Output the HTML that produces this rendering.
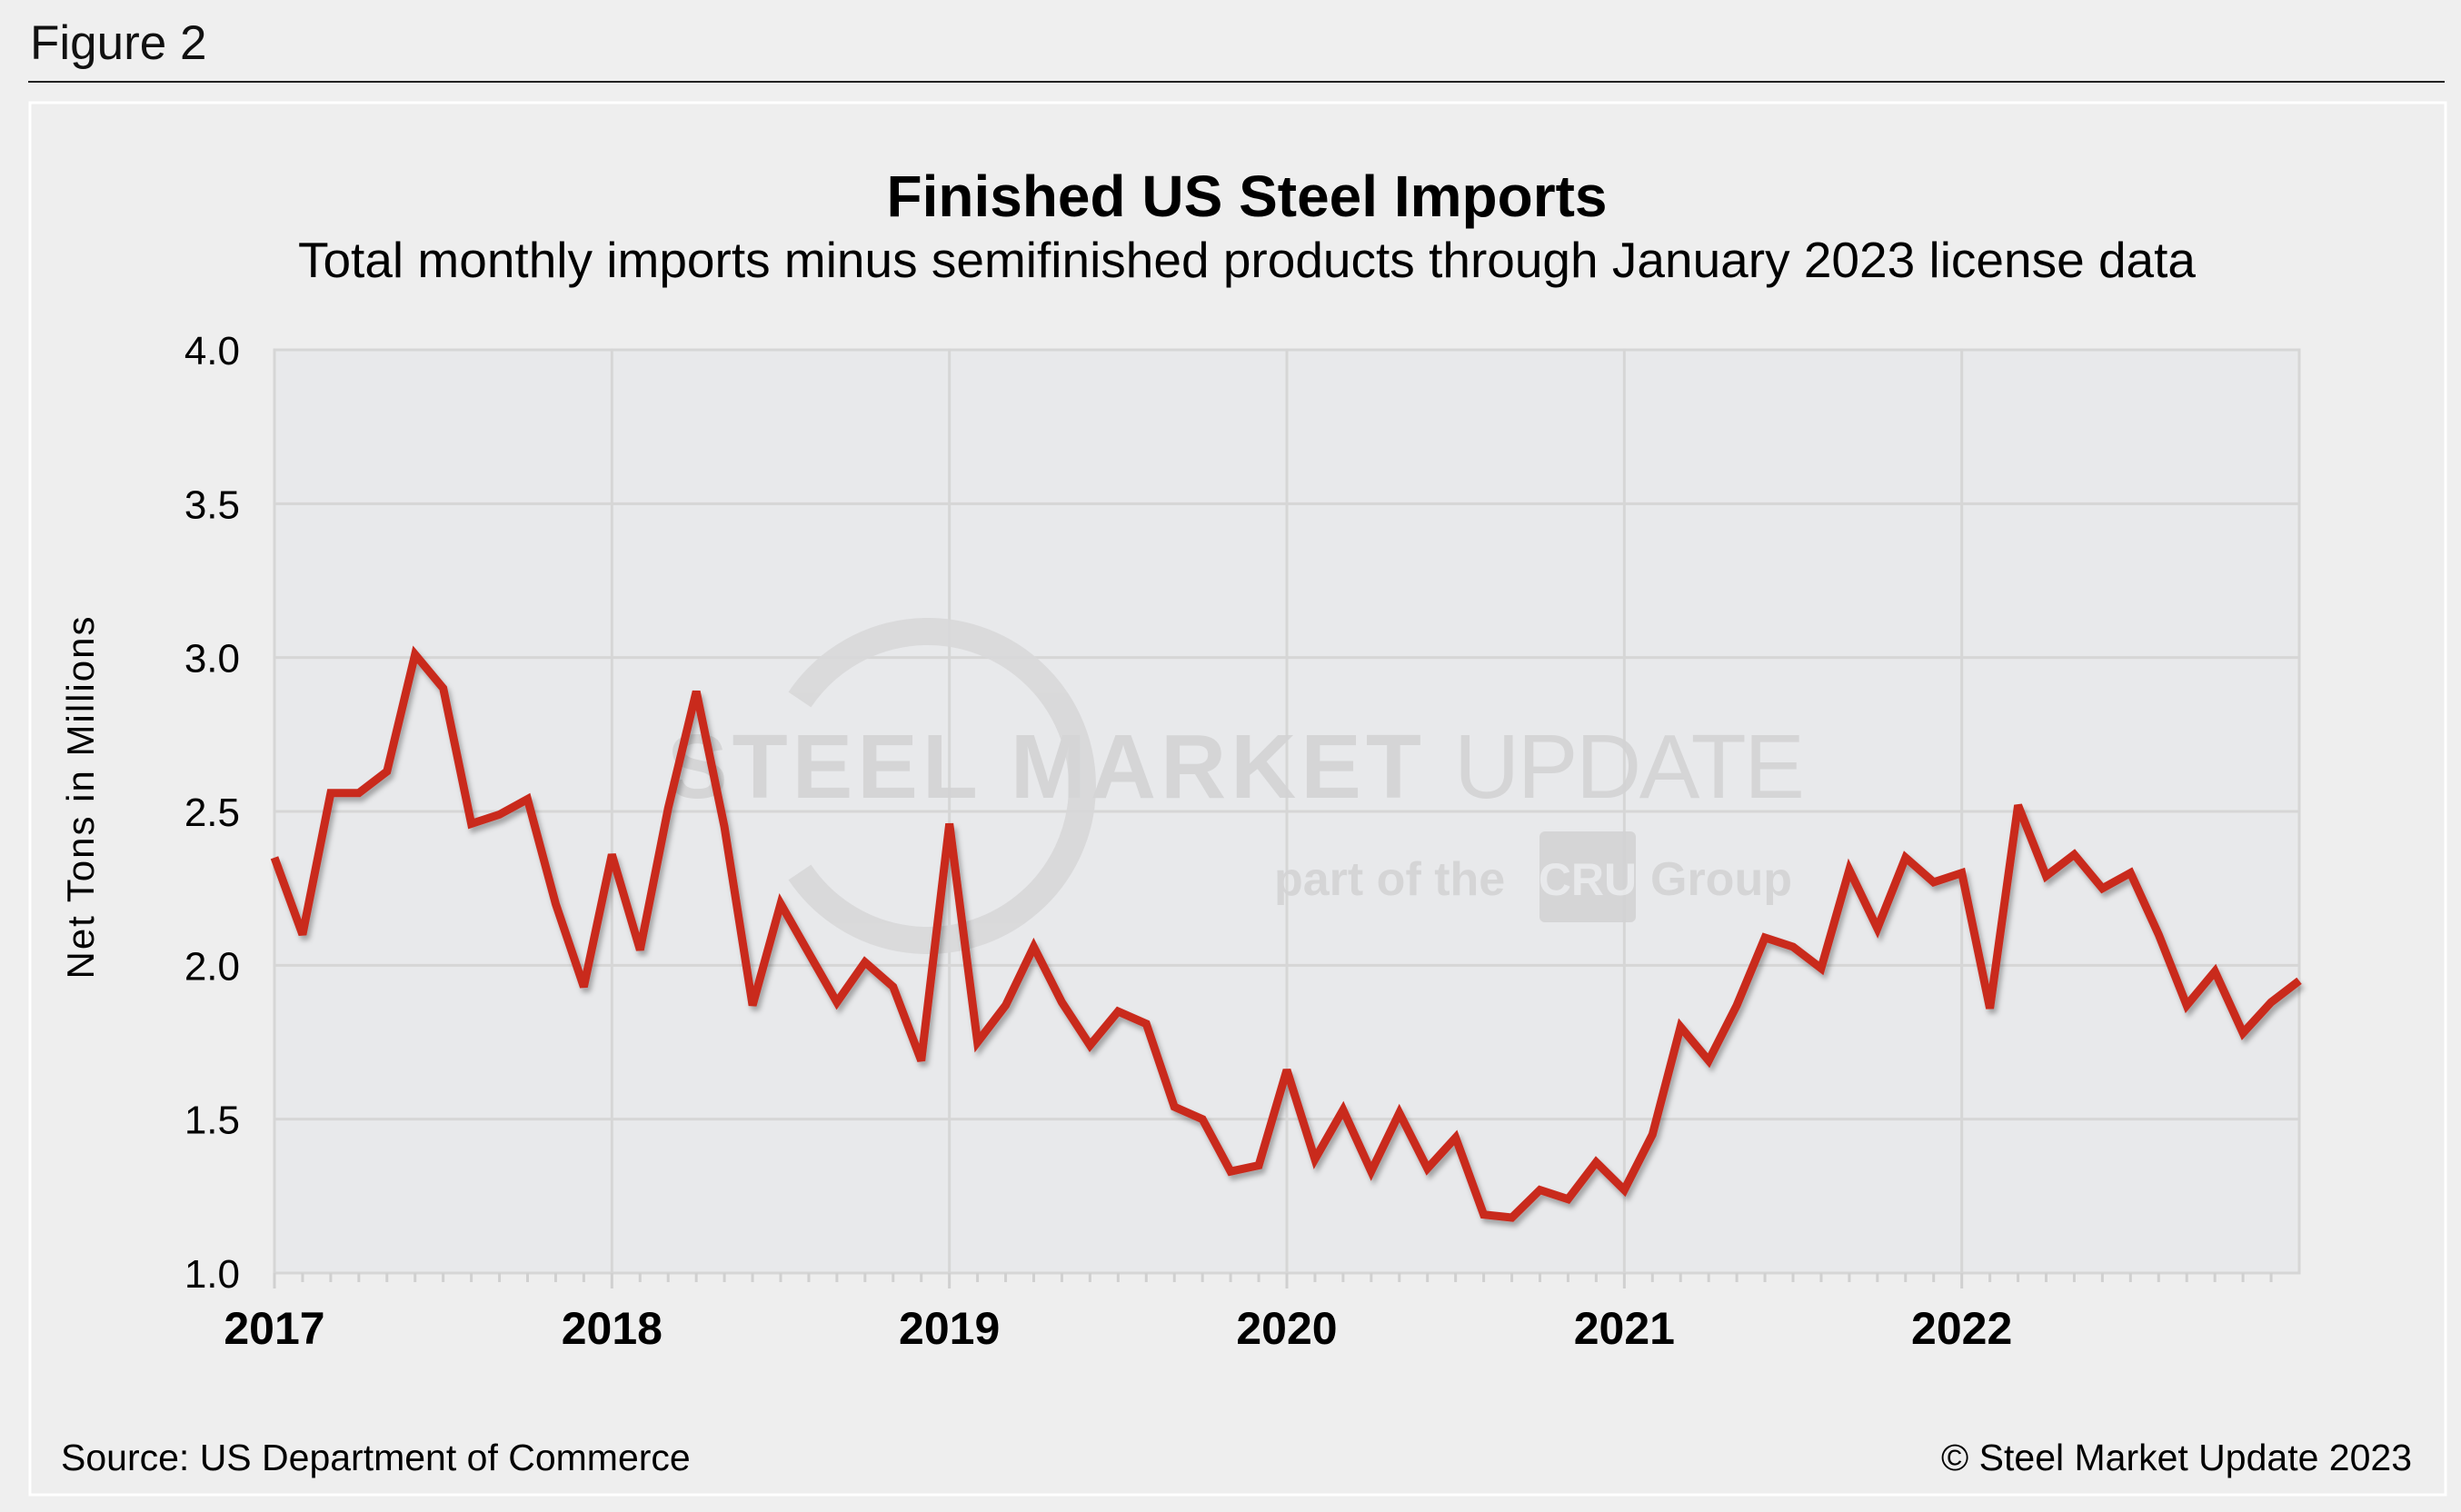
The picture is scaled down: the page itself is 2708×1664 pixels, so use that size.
<!DOCTYPE html>
<html><head><meta charset="utf-8"><style>
body{margin:0;width:2708px;height:1664px;background:#efefef;overflow:hidden;font-family:"Liberation Sans",Arial,sans-serif}
</style></head><body>
<svg width="2708" height="1664" viewBox="0 0 2708 1664" style="position:absolute;left:0;top:0">
<defs><filter id="sh" x="-5%" y="-5%" width="110%" height="120%"><feDropShadow dx="3" dy="5" stdDeviation="3" flood-color="#000" flood-opacity="0.3"/></filter></defs>
<rect width="2708" height="1664" fill="#efefef"/>
<text x="33" y="65" font-size="53" fill="#111">Figure 2</text>
<line x1="31" y1="90" x2="2690" y2="90" stroke="#222" stroke-width="2"/>
<rect x="33" y="113" width="2658" height="1532" fill="#eeeeee" stroke="#fff" stroke-width="3"/>
<text x="1372" y="238" text-anchor="middle" font-size="64" font-weight="bold" fill="#000">Finished US Steel Imports</text>
<text x="1372" y="305" text-anchor="middle" font-size="55" fill="#000">Total monthly imports minus semifinished products through January 2023 license data</text>
<rect x="302" y="385" width="2228" height="1016" fill="#e8e9eb" stroke="#d6d6d6" stroke-width="3"/>
<g id="grid"></g>
<g opacity="0.9">
<path d="M 880 770 A 170 170 0 1 1 880 960" fill="none" stroke="#d8d8d9" stroke-width="30"/>
<text x="734" y="878" font-size="100" font-weight="bold" fill="#d3d3d4" textLength="830">STEEL MARKET</text>
<text x="1600" y="878" font-size="100" fill="#d3d3d4" textLength="386">UPDATE</text>
<text x="1402" y="985" font-size="52" font-weight="bold" fill="#d3d3d4">part of the</text>
<rect x="1694" y="915" width="106" height="100" rx="6" fill="#d3d3d4"/>
<text x="1747" y="985" text-anchor="middle" font-size="50" font-weight="bold" fill="#e8e9eb">CRU</text>
<text x="1816" y="985" font-size="52" font-weight="bold" fill="#d3d3d4">Group</text>
</g>
<g id="series"></g>
<g id="axes"></g>
<text transform="translate(103,877) rotate(-90)" text-anchor="middle" font-size="42" letter-spacing="2" fill="#000">Net Tons in Millions</text>
<text x="67" y="1618" font-size="41" fill="#000">Source: US Department of Commerce</text>
<text x="2654" y="1618" text-anchor="end" font-size="41" fill="#000">© Steel Market Update 2023</text>
</svg>
<script>
const years=["2017","2018","2019","2020","2021","2022"];
const yTicks=[1.0,1.5,2.0,2.5,3.0,3.5,4.0];
const imports2017=[2.35,2.10,2.56,2.56,2.63,3.01,2.90,2.46,2.49,2.54,2.20,1.93];
const imports2018=[2.36,2.05,2.51,2.89,2.45,1.87,2.20,2.04,1.88,2.01,1.93,1.69];
const imports2019=[2.46,1.75,1.87,2.06,1.88,1.74,1.85,1.81,1.54,1.50,1.33,1.35];
const imports2020=[1.66,1.37,1.53,1.33,1.52,1.34,1.44,1.19,1.18,1.27,1.24,1.36];
const imports2021=[1.27,1.45,1.80,1.69,1.87,2.09,2.06,1.99,2.31,2.12,2.35,2.27];
const imports2022=[2.30,1.86,2.52,2.29,2.36,2.25,2.30,2.10,1.87,1.98,1.78,1.88];
const imports2023=[1.95];
const values=[].concat(imports2017,imports2018,imports2019,imports2020,imports2021,imports2022,imports2023);
const NS="http://www.w3.org/2000/svg";
const X0=302,X1=2530,Y0=1401,Y1=385,YMIN=1,YMAX=4,MONTHS=72;
const xs=i=>X0+(X1-X0)*i/MONTHS;
const ys=v=>Y0-(v-YMIN)/(YMAX-YMIN)*(Y0-Y1);
function mk(tag,attrs,parent){const e=document.createElementNS(NS,tag);for(const k in attrs)e.setAttribute(k,attrs[k]);parent.appendChild(e);return e;}
const grid=document.getElementById('grid'),axes=document.getElementById('axes'),series=document.getElementById('series');
yTicks.forEach(t=>{
  if(t>YMIN&&t<YMAX){const l=mk('line',{x1:X0,x2:X1,y1:ys(t),y2:ys(t),stroke:'#d6d6d6','stroke-width':3},grid);
  
  }
  const tx=mk('text',{x:264,y:ys(t)+16,'text-anchor':'end','font-size':44,fill:'#000'},axes);
  tx.textContent=t.toFixed(1);
  
  
});
for(let m=0;m<=MONTHS;m++){
  const major=m%12===0;
  if(major&&m>0&&m<MONTHS){const g=mk('line',{x1:xs(m),x2:xs(m),y1:Y1,y2:Y0,stroke:'#d6d6d6','stroke-width':3},grid);
  
  }
  if(m<MONTHS){const tk=mk('line',{x1:xs(m),x2:xs(m),y1:Y0,y2:Y0+(major?17:10),stroke:'#d0d0d0','stroke-width':3},axes);
  
  }
}
years.forEach((y,i)=>{
  const t=mk('text',{x:xs(i*12),y:1479,'text-anchor':'middle','font-size':50,'font-weight':'bold',fill:'#000'},axes);
  t.textContent=y;
  
  
});
const pts=values.map((v,i)=>xs(i).toFixed(1)+','+ys(v).toFixed(1)).join(' ');
const line=mk('polyline',{points:pts,fill:'none',stroke:'#c9291f','stroke-width':9,'stroke-linejoin':'miter','stroke-miterlimit':3,filter:'url(#sh)'},series);


</script>
</body></html>
